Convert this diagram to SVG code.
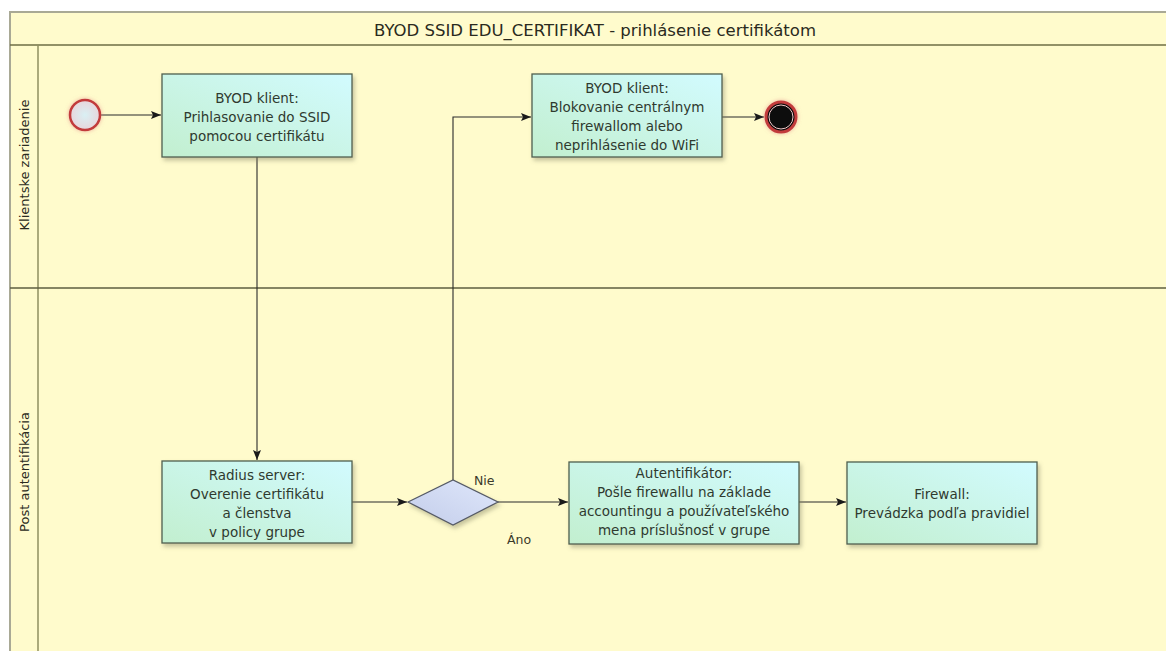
<svg xmlns="http://www.w3.org/2000/svg" width="1166" height="651" viewBox="0 0 1166 651">
  <defs>
    <linearGradient id="taskFill" x1="0" y1="1" x2="1" y2="0">
      <stop offset="0" stop-color="#c2efcf"/>
      <stop offset="1" stop-color="#d2fbff"/>
    </linearGradient>
    <linearGradient id="gateFill" x1="0" y1="1" x2="1" y2="0">
      <stop offset="0" stop-color="#c3cdea"/>
      <stop offset="1" stop-color="#dfe7fb"/>
    </linearGradient>
    <radialGradient id="startFill" cx="0.5" cy="0.5" r="0.5">
      <stop offset="0" stop-color="#d9f0f4"/>
      <stop offset="1" stop-color="#e8d6dc"/>
    </radialGradient>
    <filter id="shadow" x="-10%" y="-10%" width="130%" height="140%">
      <feDropShadow dx="2" dy="3" stdDeviation="2" flood-color="#808060" flood-opacity="0.45"/>
    </filter>
    <filter id="glow" x="-40%" y="-40%" width="180%" height="180%">
      <feDropShadow dx="0" dy="0" stdDeviation="2" flood-color="#e08080" flood-opacity="0.6"/>
    </filter>
    <marker id="arrow" viewBox="0 0 10 10" refX="10" refY="5" markerWidth="10" markerHeight="10" markerUnits="userSpaceOnUse" orient="auto">
      <path d="M0,1 L10,5 L0,9 L2,5 Z" fill="#1a1a1a"/>
    </marker>
  </defs>
  <style>
    .task { fill: url(#taskFill); stroke: #4f5f4f; stroke-width: 1.3; filter: url(#shadow); }
    .txt { font-family: "DejaVu Sans", "Liberation Sans", sans-serif; font-size: 13.5px; fill: #2f3a2f; text-anchor: middle; }
    .title { font-family: "DejaVu Sans", "Liberation Sans", sans-serif; font-size: 16.5px; fill: #2a2a20; text-anchor: middle; }
    .lane { font-family: "DejaVu Sans", "Liberation Sans", sans-serif; font-size: 13px; fill: #2a2a20; text-anchor: middle; }
    .edge { fill: none; stroke: #2a2a2a; stroke-width: 1.1; }
    .lbl { font-family: "DejaVu Sans", "Liberation Sans", sans-serif; font-size: 12.5px; fill: #3a3a2a; }
  </style>

  <rect x="0" y="0" width="1166" height="651" fill="#ffffff"/>

  <!-- pool with title band and two lanes -->
  <g id="pool">
    <rect x="10" y="12" width="1170" height="660" fill="#fffbcc" stroke="#a9a995" stroke-width="2"/>
    <line x1="10" y1="45" x2="1166" y2="45" stroke="#6e6e45" stroke-width="1.5"/>
    <line x1="38" y1="45" x2="38" y2="651" stroke="#8f8f60" stroke-width="1.5"/>
    <line x1="10" y1="288" x2="1166" y2="288" stroke="#5e5e40" stroke-width="1.3"/>
    <text class="title" x="595" y="36">BYOD SSID EDU_CERTIFIKAT - prihlásenie certifikátom</text>
    <text class="lane" transform="translate(29,165) rotate(-90)">Klientske zariadenie</text>
    <text class="lane" transform="translate(29,472) rotate(-90)">Post autentifikácia</text>
  </g>

  <!-- sequence flows -->
  <g id="connectors">
    <line class="edge" x1="101" y1="115" x2="161" y2="115" marker-end="url(#arrow)"/>
    <line class="edge" x1="257" y1="157" x2="257" y2="460" marker-end="url(#arrow)"/>
    <line class="edge" x1="352" y1="502" x2="407" y2="502" marker-end="url(#arrow)"/>
    <polyline class="edge" points="453,480 453,117 531,117" marker-end="url(#arrow)"/>
    <line class="edge" x1="498" y1="502" x2="568" y2="502" marker-end="url(#arrow)"/>
    <line class="edge" x1="799" y1="502" x2="846" y2="502" marker-end="url(#arrow)"/>
    <line class="edge" x1="722" y1="117" x2="764" y2="117" marker-end="url(#arrow)"/>
    <text class="lbl" x="474" y="485">Nie</text>
    <text class="lbl" x="507" y="544">Áno</text>
  </g>

  <g id="start">
    <circle cx="85" cy="115" r="15" fill="url(#startFill)" stroke="#c23b3b" stroke-width="2.5" filter="url(#glow)"/>
  </g>

  <g id="task-login">
    <rect class="task" x="162" y="74" width="190" height="83"/>
    <text class="txt" x="257" y="103">BYOD klient:</text>
    <text class="txt" x="257" y="122">Prihlasovanie do SSID</text>
    <text class="txt" x="257" y="141">pomocou certifikátu</text>
  </g>

  <g id="task-block">
    <rect class="task" x="532" y="74" width="190" height="83"/>
    <text class="txt" x="627" y="93">BYOD klient:</text>
    <text class="txt" x="627" y="112">Blokovanie centrálnym</text>
    <text class="txt" x="627" y="131">firewallom alebo</text>
    <text class="txt" x="627" y="150">neprihlásenie do WiFi</text>
  </g>

  <g id="end">
    <circle cx="781" cy="117" r="15" fill="#0a0a0a" stroke="#c23b3b" stroke-width="3" filter="url(#glow)"/>
    <circle cx="781" cy="117" r="12" fill="none" stroke="#f0c8c8" stroke-width="1"/>
  </g>

  <g id="task-radius">
    <rect class="task" x="162" y="461" width="190" height="82"/>
    <text class="txt" x="257" y="480">Radius server:</text>
    <text class="txt" x="257" y="499">Overenie certifikátu</text>
    <text class="txt" x="257" y="518">a členstva</text>
    <text class="txt" x="257" y="537">v policy grupe</text>
  </g>

  <g id="gateway">
    <polygon points="408,502 453,480 498,502 453,525" fill="url(#gateFill)" stroke="#555a66" stroke-width="1.3" filter="url(#shadow)"/>
  </g>

  <g id="task-authenticator">
    <rect class="task" x="569" y="462" width="230" height="82"/>
    <text class="txt" x="684" y="478">Autentifikátor:</text>
    <text class="txt" x="684" y="497">Pošle firewallu na základe</text>
    <text class="txt" x="684" y="516">accountingu a používateľského</text>
    <text class="txt" x="684" y="535">mena príslušnosť v grupe</text>
  </g>

  <g id="task-firewall">
    <rect class="task" x="847" y="462" width="190" height="82"/>
    <text class="txt" x="942" y="499">Firewall:</text>
    <text class="txt" x="942" y="518">Prevádzka podľa pravidiel</text>
  </g>
</svg>
